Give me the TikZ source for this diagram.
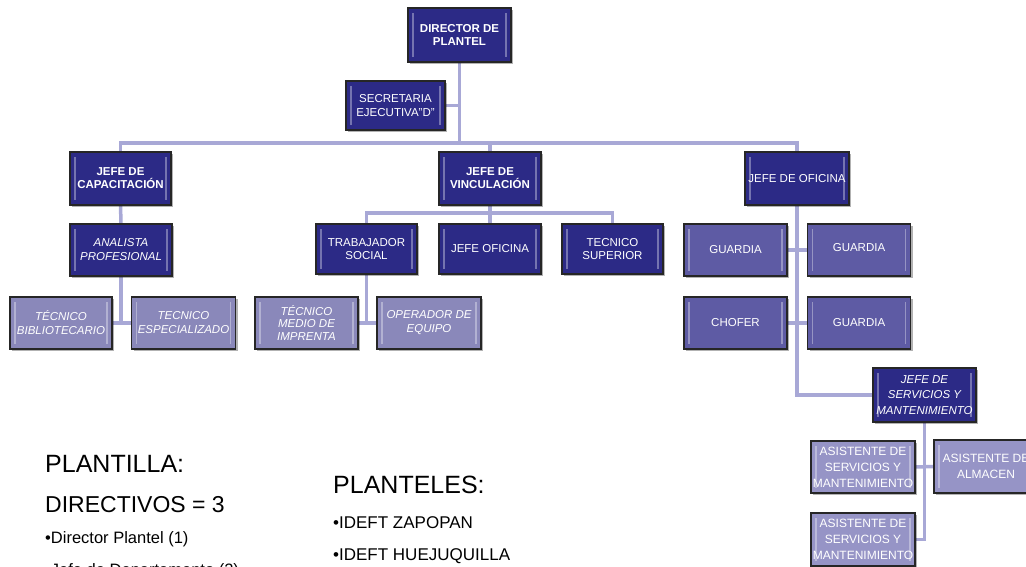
\documentclass[tikz,border=0pt]{standalone}
\usepackage{fontspec}
\setmainfont{Liberation Sans}
\usetikzlibrary{shadows,backgrounds}
\definecolor{dk}{RGB}{44,42,134}
\definecolor{md}{RGB}{94,91,164}
\definecolor{lt}{RGB}{138,136,186}
\definecolor{ls}{RGB}{150,148,198}
\definecolor{cn}{RGB}{168,168,214}
\tikzset{
 box/.style={rectangle, draw=black!85, line width=1.3pt, minimum width=103pt, minimum height=52pt,
   inner sep=1pt, align=center, text=white, font=\fontsize{11.5}{13.5}\selectfont,
   drop shadow={shadow xshift=2pt, shadow yshift=-2pt, opacity=0.3, fill=black},
   path picture={
     \draw[white, opacity=0.35, line width=1.2pt]
       ([xshift=5pt,yshift=-5pt]path picture bounding box.north west) -- ([xshift=5pt,yshift=5pt]path picture bounding box.south west);
     \draw[white, opacity=0.35, line width=1.2pt]
       ([xshift=-5pt,yshift=-5pt]path picture bounding box.north east) -- ([xshift=-5pt,yshift=5pt]path picture bounding box.south east);}},
 darkbox/.style={box, fill=dk},
 boldbox/.style={box, fill=dk, font=\fontsize{11.5}{13}\selectfont\bfseries},
 itbox/.style={box, fill=dk, font=\fontsize{11.5}{15.5}\selectfont\itshape},
 medbox/.style={box, fill=md},
 litbox/.style={box, fill=lt, font=\fontsize{11.5}{14}\selectfont\itshape},
 asbox/.style={box, fill=ls, font=\fontsize{12}{16}\selectfont},
 conn/.style={draw=cn, line width=3.5pt},
 big/.style={anchor=base west, inner sep=0pt, font=\fontsize{25}{30}\selectfont},
 small/.style={anchor=base west, inner sep=0pt, font=\fontsize{16.5}{20}\selectfont},
}
\begin{document}
\begin{tikzpicture}[x=1pt,y=-1pt]
\useasboundingbox (0,0) rectangle (1026,567);
\begin{pgfonlayer}{background}
\fill[white] (0,0) rectangle (1026,567);
\end{pgfonlayer}
% top levels
\node[boldbox, minimum width=103pt, minimum height=54pt] (dir) at (459.5,35) {DIRECTOR DE\\PLANTEL};
\node[darkbox, minimum width=99pt, minimum height=49pt] (sec) at (395.5,105.5) {SECRETARIA\\EJECUTIVA"D"};
\node[boldbox, minimum width=101pt, minimum height=53pt] (cap) at (120.5,178.5) {JEFE DE\\CAPACITACIÓN};
\node[boldbox, minimum width=102pt, minimum height=53pt] (vinc) at (490,178.5) {JEFE DE\\VINCULACIÓN};
\node[darkbox, minimum width=104pt, minimum height=53pt] (ofi) at (797,178.5) {JEFE DE OFICINA};
% second level
\node[itbox, minimum width=102pt, minimum height=52pt, font=\fontsize{11.5}{14}\selectfont\itshape] (anal) at (121,250) {ANALISTA\\PROFESIONAL};
\node[darkbox, minimum width=101pt, minimum height=50pt] (trab) at (366.5,249) {TRABAJADOR\\SOCIAL};
\node[darkbox, minimum width=102pt, minimum height=50pt] (jofi) at (490,249) {JEFE OFICINA};
\node[darkbox, minimum width=101pt, minimum height=50pt] (tsup) at (612.5,249) {TECNICO\\SUPERIOR};
% third level
\node[litbox, minimum width=102pt] (bib) at (61,323) {TÉCNICO\\BIBLIOTECARIO};
\node[litbox, minimum width=104pt] (esp) at (183.5,323) {TECNICO\\ESPECIALIZADO};
\node[litbox, minimum width=103pt, font=\fontsize{11.5}{12.5}\selectfont\itshape] (imp) at (306.5,323) {TÉCNICO\\MEDIO DE\\IMPRENTA};
\node[litbox, minimum width=104pt] (oper) at (429,323) {OPERADOR DE\\EQUIPO};
% oficina branch
\node[medbox] (g1) at (735.5,250) {GUARDIA};
\node[medbox] (g2) at (859,250) {\raisebox{5pt}{GUARDIA}};
\node[medbox] (chof) at (735.5,323) {CHOFER};
\node[medbox] (g3) at (859,323) {GUARDIA};
\node[itbox, minimum width=103pt, minimum height=54pt] (serv) at (924.5,395) {JEFE DE\\SERVICIOS Y\\MANTENIMIENTO};
\node[asbox, minimum width=104pt, minimum height=52pt] (as1) at (863,467) {ASISTENTE DE\\SERVICIOS Y\\MANTENIMIENTO};
\node[asbox, minimum width=104pt, minimum height=53pt] (alm) at (986,466.5) {ASISTENTE DE\\ALMACEN};
\node[asbox, minimum width=104pt, minimum height=53pt] (as2) at (863,539.5) {ASISTENTE DE\\SERVICIOS Y\\MANTENIMIENTO};
% connectors
\coordinate (b1) at (459.5,143);
\coordinate (b2) at (490,213);
\begin{pgfonlayer}{background}
\draw[conn] (dir) -- (dir |- b1);
\draw[conn] (sec) -- (sec -| dir);
\draw[conn] (cap) |- (b1) -| (ofi);
\draw[conn] (vinc) -- (vinc |- b1);
\draw[conn] (vinc) -- (jofi);
\draw[conn] (trab) |- (b2) -| (tsup);
\draw[conn] (cap) -- (anal);
\draw[conn] (anal) -- (anal |- bib);
\draw[conn] (bib) -- (esp);
\draw[conn] (trab) -- (trab |- imp);
\draw[conn] (imp) -- (oper);
\draw[conn] (ofi) |- (serv);
\draw[conn] (g1) -- (g2);
\draw[conn] (chof) -- (g3);
\draw[conn] (serv) |- (as2);
\draw[conn] (as1) -- (alm);
\end{pgfonlayer}
% text below
\node[big] (plt) at (45,472) {PLANTILLA:};
\node[big, font=\fontsize{23}{28}\selectfont] (dirs) at (45,512) {DIRECTIVOS = 3};
\node[small] (d1) at (45,543) {•Director Plantel (1)};
\node[small] (d2) at (45,575) {•Jefe de Departamento (2)};
\node[big] (pls) at (333,493) {PLANTELES:};
\node[small, font=\fontsize{17}{20}\selectfont] (p1) at (333,528) {•IDEFT ZAPOPAN};
\node[small, font=\fontsize{17}{20}\selectfont] (p2) at (333,560) {•IDEFT HUEJUQUILLA};
\end{tikzpicture}
\end{document}
